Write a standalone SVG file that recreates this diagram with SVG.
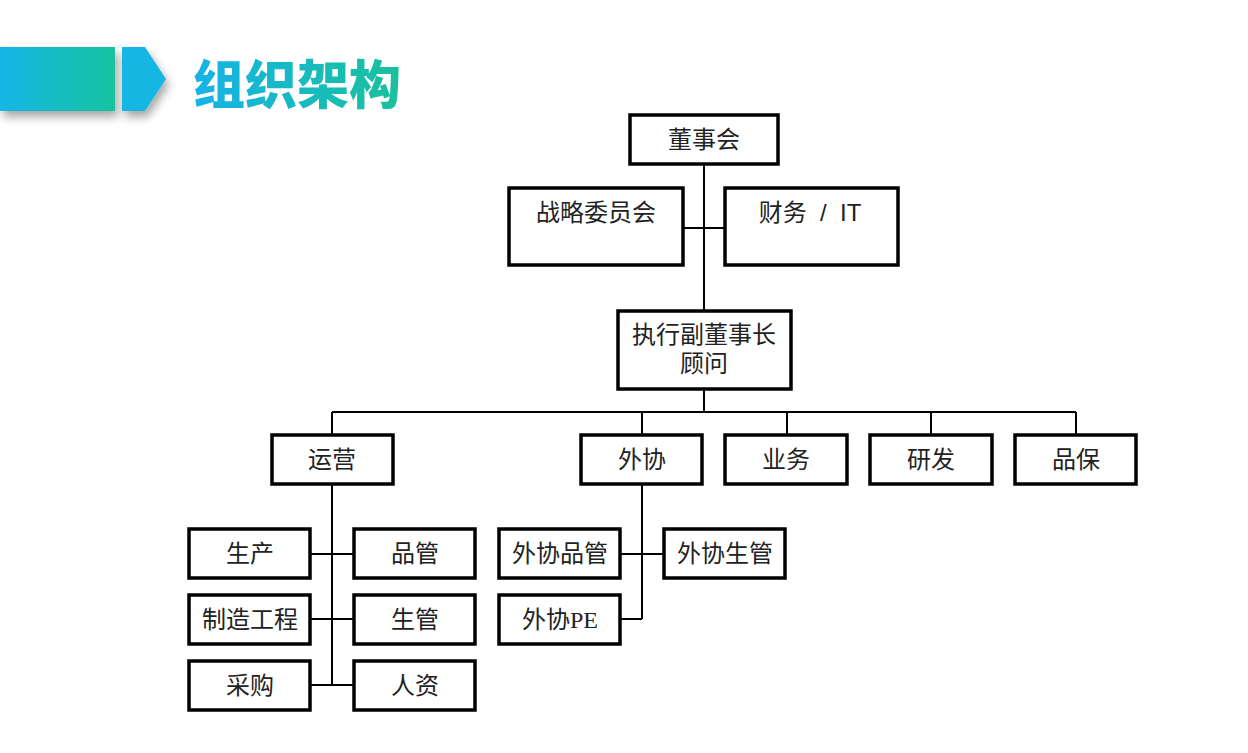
<svg xmlns="http://www.w3.org/2000/svg" width="1248" height="753" viewBox="0 0 1248 753">
<defs>
<linearGradient id="barG" x1="0" y1="0" x2="1" y2="0">
<stop offset="0" stop-color="#19b6e6"/>
<stop offset="1" stop-color="#19c39f"/>
</linearGradient>
<linearGradient id="titleG" x1="0" y1="0" x2="1" y2="0">
<stop offset="0" stop-color="#15b3e8"/>
<stop offset="1" stop-color="#19c19b"/>
</linearGradient>
<filter id="sh" x="-20%" y="-20%" width="150%" height="160%">
<feGaussianBlur in="SourceAlpha" stdDeviation="5"/>
<feOffset dx="3" dy="6" result="b"/>
<feComponentTransfer><feFuncA type="linear" slope="0.35"/></feComponentTransfer>
<feMerge><feMergeNode/><feMergeNode in="SourceGraphic"/></feMerge>
</filter>
</defs>
<style>
.box{fill:#fff;stroke:#000;stroke-width:3.5}
.t{font-family:"Liberation Serif","Noto Sans CJK SC",serif;font-size:24px;fill:#222;text-anchor:middle}
.ts{font-family:"Liberation Sans","Noto Sans CJK SC",sans-serif;font-size:24px;fill:#222;text-anchor:middle;white-space:pre}
.ln{stroke:#000;stroke-width:2;fill:none}
</style>
<rect width="1248" height="753" fill="#fff"/>
<g id="title">
<rect x="0" y="47" width="115" height="64" fill="url(#barG)" filter="url(#sh)"/>
<polygon points="122,47 145,47 166,79 145,111 122,111" fill="#17b6e2" filter="url(#sh)"/>
<text x="193" y="104" font-family="Noto Sans CJK SC, sans-serif" font-weight="900" font-size="52" fill="url(#titleG)">组织架构</text>
</g>
<g id="connectors">
<path class="ln" d="M704,164 V311 M683,228 H725 M704,389 V412 M332,412 H1076 M332,412 V435 M642,412 V435 M787,412 V435 M931,412 V435 M1076,412 V435"/>
<path class="ln" d="M332,484 V685 M311,554 H353 M311,619 H353 M311,685 H353"/>
<path class="ln" d="M642,484 V619 M621,554 H663 M621,619 H642"/>
</g>
<g id="n-board"><rect class="box" x="630" y="115" width="148" height="49"/><text class="t" x="704" y="148">董事会</text></g>
<g id="n-strategy"><rect class="box" x="509" y="188" width="174" height="77"/><text class="t" x="596" y="221">战略委员会</text></g>
<g id="n-finance"><rect class="box" x="725" y="188" width="173" height="77"/><text class="ts" x="810" y="221" xml:space="preserve">财务  /  IT</text></g>
<g id="n-exec"><rect class="box" x="618" y="311" width="173" height="78"/><text class="t" x="704" y="343">执行副董事长</text><text class="t" x="704" y="372">顾问</text></g>
<g id="n-ops"><rect class="box" x="272" y="435" width="121" height="49"/><text class="t" x="332" y="468">运营</text></g>
<g id="n-outsource"><rect class="box" x="581" y="435" width="121" height="49"/><text class="t" x="642" y="468">外协</text></g>
<g id="n-biz"><rect class="box" x="725" y="435" width="122" height="49"/><text class="t" x="786" y="468">业务</text></g>
<g id="n-rd"><rect class="box" x="870" y="435" width="122" height="49"/><text class="t" x="931" y="468">研发</text></g>
<g id="n-qa"><rect class="box" x="1015" y="435" width="121" height="49"/><text class="t" x="1076" y="468">品保</text></g>
<g id="n-prod"><rect class="box" x="189" y="529" width="121" height="49"/><text class="t" x="250" y="562">生产</text></g>
<g id="n-qc"><rect class="box" x="354" y="529" width="121" height="49"/><text class="t" x="415" y="562">品管</text></g>
<g id="n-mfg"><rect class="box" x="189" y="595" width="121" height="49"/><text class="t" x="250" y="628">制造工程</text></g>
<g id="n-pc"><rect class="box" x="354" y="595" width="121" height="49"/><text class="t" x="415" y="628">生管</text></g>
<g id="n-buy"><rect class="box" x="189" y="661" width="121" height="49"/><text class="t" x="250" y="694">采购</text></g>
<g id="n-hr"><rect class="box" x="354" y="661" width="121" height="49"/><text class="t" x="415" y="694">人资</text></g>
<g id="n-oqc"><rect class="box" x="499" y="529" width="121" height="49"/><text class="t" x="560" y="562">外协品管</text></g>
<g id="n-opc"><rect class="box" x="664" y="529" width="121" height="49"/><text class="t" x="725" y="562">外协生管</text></g>
<g id="n-ope"><rect class="box" x="499" y="595" width="121" height="49"/><text class="t" x="560" y="628">外协PE</text></g>
</svg>
